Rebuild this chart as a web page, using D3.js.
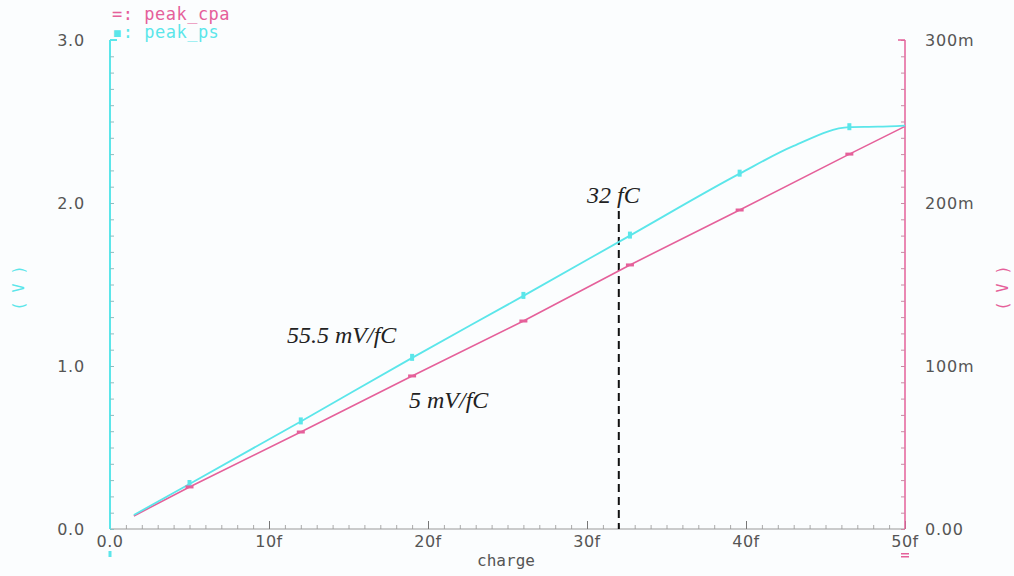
<!DOCTYPE html>
<html><head><meta charset="utf-8">
<script src="https://cdn.jsdelivr.net/npm/d3@7"></script>
<style>
html,body{margin:0;padding:0;background:#fbfdfe;}
svg{display:block;}
</style></head>
<body>
<svg id="chart" width="1014" height="576"></svg>
<script>
// ---- data ----
const psCharge = [1.5, 5, 12, 19, 26, 32.7, 39.6, 43, 46.5, 48.3, 50];
const psValue  = [0.086, 0.276, 0.66, 1.05, 1.43, 1.80, 2.18, 2.35, 2.465, 2.468, 2.475]; // V (left axis)
const cpaCharge = [1.5, 5, 12, 19, 26, 32.7, 39.6, 46.5, 50];
const cpaValue  = [8.0, 25.8, 59.5, 93.9, 127.6, 162, 195.7, 230, 247]; // mV (right axis)
const markerCharge = [5, 12, 19, 26, 32.7, 39.6, 46.5];
const xTicks = [0, 10, 20, 30, 40, 50];
const xTickLabels = ["0.0", "10f", "20f", "30f", "40f", "50f"];
const yLeftTicks = [0, 1, 2, 3];
const yLeftLabels = ["0.0", "1.0", "2.0", "3.0"];
const yRightTicks = [0, 100, 200, 300];
const yRightLabels = ["0.00", "100m", "200m", "300m"];
const markerLine = 32;

const CYAN = "#5be6ea", PINK = "#e5609a", GRAY = "#555";
const svg = d3.select("#chart");
const L = 110, R = 905, T = 40, B = 529;
const x = d3.scaleLinear().domain([0, 50]).range([L, R]);
const yL = d3.scaleLinear().domain([0, 3]).range([B, T]);
const yR = d3.scaleLinear().domain([0, 300]).range([B, T]);
const mono = "'DejaVu Sans Mono', monospace";
const sans = "'DejaVu Sans', sans-serif";

// bottom axis
const bottom = svg.append("g").attr("transform", `translate(0,${B})`);
bottom.append("g").call(d3.axisTop(x).tickValues(d3.range(0, 50.01, 1)).tickSize(4).tickFormat(""))
  .call(g => g.select(".domain").remove()).selectAll("line").attr("stroke", "#aaa");
bottom.append("g").call(d3.axisTop(x).tickValues(xTicks).tickSize(8).tickFormat(""))
  .call(g => g.select(".domain").attr("stroke", "#999").attr("d", `M${L},0H${R}`))
  .selectAll("line").attr("stroke", "#777");
bottom.selectAll("text.xl").data(xTicks).join("text").attr("class", "xl")
  .attr("x", d => x(d)).attr("y", 18).attr("text-anchor", "middle")
  .attr("font-family", sans).attr("font-size", 16).attr("letter-spacing", 0.5).attr("fill", GRAY)
  .text((d, i) => xTickLabels[i]);

// left axis
const left = svg.append("g").attr("transform", `translate(${L},0)`);
left.append("g").call(d3.axisRight(yL).tickValues(d3.range(0, 3.001, 0.1)).tickSize(4).tickFormat(""))
  .call(g => g.select(".domain").attr("stroke", CYAN).attr("stroke-width", 2).attr("d", `M0,${B}V${T}`))
  .selectAll("line").attr("stroke", "#8cbfc2");
left.append("line").attr("x1", 0).attr("x2", 7).attr("y1", yL(3)).attr("y2", yL(3)).attr("stroke", CYAN).attr("stroke-width", 2);
left.selectAll("text.yl").data(yLeftTicks).join("text").attr("class", "yl")
  .attr("x", -25).attr("y", d => yL(d) + 6).attr("text-anchor", "end")
  .attr("font-family", sans).attr("font-size", 16).attr("letter-spacing", 0.8).attr("fill", GRAY)
  .text((d, i) => yLeftLabels[i]);

// right axis
const right = svg.append("g").attr("transform", `translate(${R},0)`);
right.append("g").call(d3.axisLeft(yR).tickValues(d3.range(0, 300.01, 10)).tickSize(4).tickFormat(""))
  .call(g => g.select(".domain").attr("stroke", PINK).attr("stroke-width", 1.5).attr("d", `M0,${B}V${T}`))
  .selectAll("line").attr("stroke", "#c98aa5");
right.append("line").attr("x1", 0).attr("x2", -7).attr("y1", yR(300)).attr("y2", yR(300)).attr("stroke", PINK).attr("stroke-width", 1.5);
right.selectAll("text.yr").data(yRightTicks).join("text").attr("class", "yr")
  .attr("x", 20).attr("y", d => yR(d) + 6).attr("text-anchor", "start")
  .attr("font-family", sans).attr("font-size", 16).attr("letter-spacing", 0.8).attr("fill", GRAY)
  .text((d, i) => yRightLabels[i]);

// axis end markers below
svg.append("rect").attr("x", L - 1.5).attr("y", 551).attr("width", 3).attr("height", 6).attr("fill", CYAN);
svg.append("rect").attr("x", R - 4).attr("y", 553).attr("width", 8).attr("height", 1.5).attr("fill", PINK);
svg.append("rect").attr("x", R - 4).attr("y", 556).attr("width", 8).attr("height", 1.5).attr("fill", PINK);

// axis titles
svg.append("text").attr("x", 506).attr("y", 566).attr("text-anchor", "middle")
  .attr("font-family", mono).attr("font-size", 16).attr("fill", GRAY).text("charge");
svg.append("text").attr("transform", "translate(24,288) rotate(-90)").attr("text-anchor", "middle")
  .attr("font-family", mono).attr("font-size", 15).attr("fill", CYAN).text("( V )");
svg.append("text").attr("transform", "translate(1008,288) rotate(-90)").attr("text-anchor", "middle")
  .attr("font-family", mono).attr("font-size", 15).attr("fill", PINK).text("( V )");

// legend
svg.append("text").attr("x", 112).attr("y", 20).attr("font-family", mono).attr("font-size", 17).attr("letter-spacing", 0.5).attr("fill", PINK).text("=: peak_cpa");
svg.append("text").attr("x", 112).attr("y", 38).attr("font-family", mono).attr("font-size", 17).attr("letter-spacing", 0.5).attr("fill", CYAN).text("▪: peak_ps");

// dashed marker line
svg.append("line").attr("x1", x(markerLine)).attr("x2", x(markerLine)).attr("y1", 211).attr("y2", B)
  .attr("stroke", "#111").attr("stroke-width", 2).attr("stroke-dasharray", "8,5");

// lines
const psData = psCharge.map((c, i) => [c, psValue[i]]);
const cpaData = cpaCharge.map((c, i) => [c, cpaValue[i]]);
svg.append("path").datum(cpaData).attr("fill", "none").attr("stroke", PINK).attr("stroke-width", 1.6)
  .attr("d", d3.line().x(d => x(d[0])).y(d => yR(d[1])));
svg.append("path").datum(psData).attr("fill", "none").attr("stroke", CYAN).attr("stroke-width", 1.8)
  .attr("d", d3.line().curve(d3.curveMonotoneX).x(d => x(d[0])).y(d => yL(d[1])));

// markers
const interpPs = d3.scaleLinear().domain(psCharge).range(psValue);
const interpCpa = d3.scaleLinear().domain(cpaCharge).range(cpaValue);
svg.selectAll("rect.mps").data(markerCharge).join("rect").attr("class", "mps")
  .attr("x", d => x(d) - 2).attr("y", d => yL(interpPs(d)) - 4).attr("width", 4).attr("height", 7).attr("fill", CYAN);
svg.selectAll("rect.mcpa").data(markerCharge).join("rect").attr("class", "mcpa")
  .attr("x", d => x(d) - 4).attr("y", d => yR(interpCpa(d)) - 1.5).attr("width", 8).attr("height", 3).attr("fill", PINK);

// annotations
const serif = "'Liberation Serif', 'DejaVu Serif', serif";
svg.append("text").attr("x", 587).attr("y", 203).attr("font-family", serif).attr("font-style", "italic")
  .attr("font-size", 24).attr("fill", "#222").text("32 fC");
svg.append("text").attr("x", 287).attr("y", 343).attr("font-family", serif).attr("font-style", "italic")
  .attr("font-size", 24).attr("fill", "#222").text("55.5 mV/fC");
svg.append("text").attr("x", 409).attr("y", 408).attr("font-family", serif).attr("font-style", "italic")
  .attr("font-size", 24).attr("fill", "#222").text("5 mV/fC");
</script>
</body></html>
